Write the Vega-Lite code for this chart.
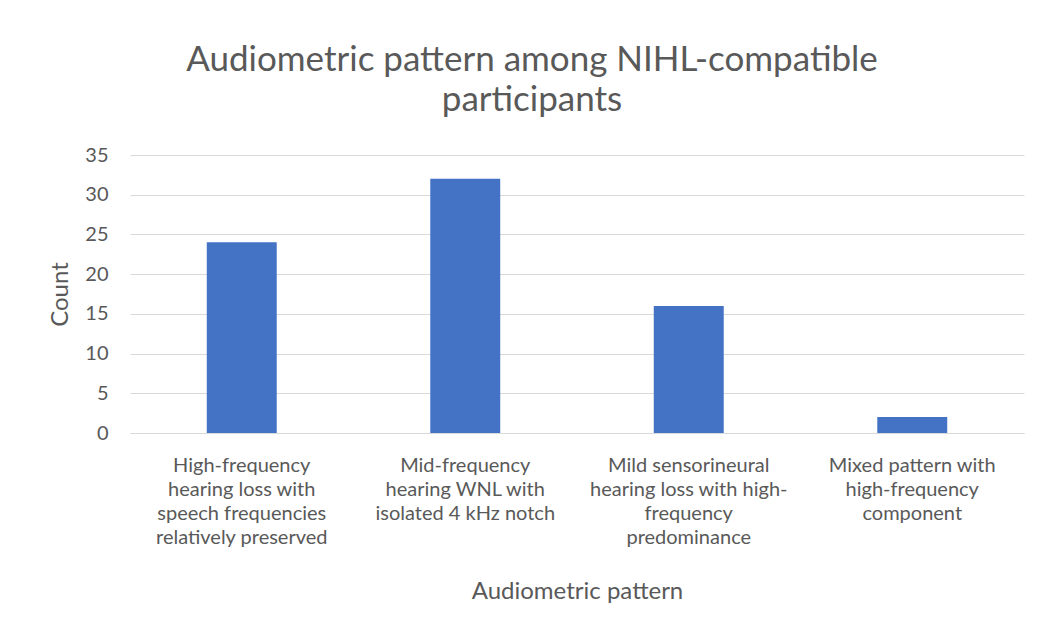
{
  "$schema": "https://vega.github.io/schema/vega-lite/v6.json",
  "width": 894,
  "height": 278,
  "autosize": {"type": "none"},
  "padding": {"left": 130, "top": 155, "right": 16, "bottom": 199},
  "background": "white",
  "title": {
    "text": ["Audiometric pattern among NIHL-compatible", "participants"],
    "anchor": "middle",
    "frame": "group",
    "dx": -45,
    "offset": 27,
    "font": "Lato",
    "fontSize": 35,
    "fontWeight": "normal",
    "color": "#595959",
    "lineHeight": 40
  },
  "data": {
    "values": [
      {"pattern": "High-frequency|hearing loss with|speech frequencies|relatively preserved", "count": 24},
      {"pattern": "Mid-frequency|hearing WNL with|isolated 4 kHz notch", "count": 32},
      {"pattern": "Mild sensorineural|hearing loss with high-|frequency|predominance", "count": 16},
      {"pattern": "Mixed pattern with|high-frequency|component", "count": 2}
    ]
  },
  "mark": {"type": "bar", "color": "#4472C4"},
  "encoding": {
    "x": {
      "field": "pattern",
      "type": "nominal",
      "sort": null,
      "title": "Audiometric pattern",
      "scale": {"paddingInner": 0.687, "paddingOuter": 0.3435},
      "axis": {
        "labelAngle": 0,
        "labelExpr": "split(datum.label, '|')",
        "labelLineHeight": 24,
        "labelFont": "Lato",
        "labelFontSize": 20,
        "labelColor": "#595959",
        "labelPadding": 22,
        "labelLimit": 300,
        "ticks": false,
        "domainColor": "#d9d9d9",
        "domainWidth": 1,
        "titleFont": "Lato",
        "titleFontSize": 24,
        "titleFontWeight": "normal",
        "titleColor": "#595959",
        "titlePadding": 32
      }
    },
    "y": {
      "field": "count",
      "type": "quantitative",
      "title": "Count",
      "scale": {"domain": [0, 35], "nice": false},
      "axis": {
        "values": [0, 5, 10, 15, 20, 25, 30, 35],
        "domain": false,
        "ticks": false,
        "gridColor": "#d9d9d9",
        "labelFont": "Lato",
        "labelFontSize": 20,
        "labelColor": "#595959",
        "labelPadding": 22,
        "titleFont": "Lato",
        "titleFontSize": 24,
        "titleFontWeight": "normal",
        "titleColor": "#595959",
        "titlePadding": 12
      }
    }
  },
  "config": {"view": {"stroke": null}}
}
